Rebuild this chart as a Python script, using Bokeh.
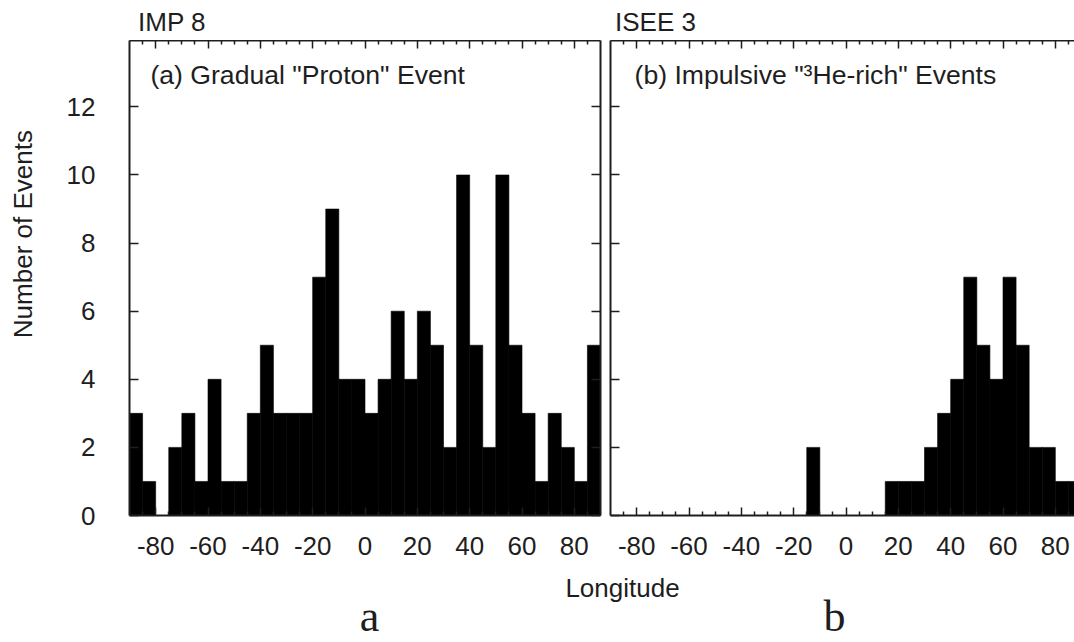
import math
from bokeh.plotting import figure
from bokeh.layouts import column, row
from bokeh.models import Range1d, LinearAxis, FixedTicker, Label, ColumnDataSource
from bokeh.embed import file_html
from bokeh.resources import INLINE

# ---------------- data ----------------
bin_left = [-90, -85, -80, -75, -70, -65, -60, -55, -50, -45, -40, -35,
            -30, -25, -20, -15, -10, -5, 0, 5, 10, 15, 20, 25,
            30, 35, 40, 45, 50, 55, 60, 65, 70, 75, 80, 85]
bin_width = 5
imp8_counts = [3, 1, 0, 2, 3, 1, 4, 1, 1, 3, 5, 3,
               3, 3, 7, 9, 4, 4, 3, 4, 6, 4, 6, 5,
               2, 10, 5, 2, 10, 5, 3, 1, 3, 2, 1, 5]
isee3_counts = [0, 0, 0, 0, 0, 0, 0, 0, 0, 0, 0, 0,
                0, 0, 0, 2, 0, 0, 0, 0, 0, 1, 1, 1,
                2, 3, 4, 7, 5, 4, 7, 5, 2, 2, 1, 1]
x_ticks = [-80, -60, -40, -20, 0, 20, 40, 60, 80]
x_tick_labels = ["-80", "-60", "-40", "-20", "0", "20", "40", "60", "80"]
x_minor = [-85, -75, -70, -65, -55, -50, -45, -35, -30, -25, -15, -10, -5,
           5, 10, 15, 25, 30, 35, 45, 50, 55, 65, 70, 75, 85]
y_ticks = [0, 2, 4, 6, 8, 10, 12]
y_tick_labels = ["0", "2", "4", "6", "8", "10", "12"]

FONT = "Liberation Sans"
INK = "#1e1e1e"
FS = "26px"


def hide_labels(ax):
    ax.major_label_text_font_size = "1px"
    ax.major_label_text_color = None
    ax.major_label_standoff = 0


def style_x(ax, labels):
    ax.ticker = FixedTicker(ticks=x_ticks, minor_ticks=x_minor)
    ax.major_tick_in = 8
    ax.major_tick_out = 0
    ax.minor_tick_in = 4
    ax.minor_tick_out = 0
    ax.axis_line_color = INK
    ax.axis_line_width = 2
    ax.major_tick_line_color = INK
    ax.major_tick_line_width = 1.5
    ax.minor_tick_line_color = INK
    ax.minor_tick_line_width = 1.5
    if labels:
        ax.major_label_overrides = dict(zip(x_ticks, x_tick_labels))
        ax.major_label_text_font = FONT
        ax.major_label_text_font_size = FS
        ax.major_label_text_color = INK
        ax.major_label_standoff = 21
    else:
        hide_labels(ax)


def style_y(ax, labels):
    ax.ticker = FixedTicker(ticks=y_ticks, minor_ticks=[])
    ax.major_tick_in = 9
    ax.major_tick_out = 0
    ax.minor_tick_in = 0
    ax.minor_tick_out = 0
    ax.axis_line_color = INK
    ax.axis_line_width = 2
    ax.major_tick_line_color = INK
    ax.major_tick_line_width = 1.5
    if labels:
        ax.major_label_overrides = dict(zip(y_ticks, y_tick_labels))
        ax.major_label_text_font = FONT
        ax.major_label_text_font_size = FS
        ax.major_label_text_color = INK
        ax.major_label_standoff = 34
    else:
        hide_labels(ax)


def make_panel(counts, width, x_end, bl, br, left_labels):
    p = figure(width=width, height=525, x_range=Range1d(-90, x_end),
               y_range=Range1d(0, 13.95), output_backend="svg",
               toolbar_location=None, min_border_left=bl, min_border_right=br,
               min_border_top=0, min_border_bottom=50)
    p.outline_line_color = None
    p.xgrid.visible = False
    p.ygrid.visible = False
    p.background_fill_color = "white"
    p.border_fill_color = "white"
    src = ColumnDataSource(dict(left=bin_left,
                                right=[b + bin_width for b in bin_left],
                                top=counts))
    p.quad(left="left", right="right", bottom=0, top="top", source=src,
           fill_color="black", line_color="black", line_width=0.6)
    style_x(p.xaxis[0], True)
    style_y(p.yaxis[0], left_labels)
    top = LinearAxis()
    style_x(top, False)
    p.add_layout(top, "above")
    return p


def text_strip(width, height):
    s = figure(width=width, height=height, x_range=Range1d(0, width),
               y_range=Range1d(height, 0), output_backend="svg",
               toolbar_location=None, x_axis_type=None, y_axis_type=None,
               min_border=0)
    s.outline_line_color = None
    s.xgrid.visible = False
    s.ygrid.visible = False
    return s


def lab(p, text, x, y, size=FS, font=FONT, align="left", **kw):
    p.add_layout(Label(x=x, y=y, text=text, text_font=font, text_font_size=size,
                       text_color=INK, text_align=align, text_baseline="middle", **kw))


pa = make_panel(imp8_counts, 565, 90, 89, 5, True)
right = LinearAxis()
style_y(right, False)
pa.add_layout(right, "right")
pb = make_panel(isee3_counts, 469, -90 + 464 * 180 / 471, 5, 0, False)

# in-panel captions (data coordinates, inside the frames)
lab(pa, '(a) Gradual "Proton" Event', -82.0, 12.95, size="26.6px")
lab(pb, '(b) Impulsive "\u00b3He-rich" Events', -80.8, 12.95, size="26.6px")

# top strip: instrument names
top_strip = text_strip(1074, 40)
lab(top_strip, "IMP 8", 137.5, 21)
lab(top_strip, "ISEE 3", 614.5, 21)

# left strip: y axis title
left_strip = text_strip(40, 525)
lab(left_strip, "Number of Events", 22, 214, align="center", angle=math.pi / 2)

# bottom strip: common x label and panel letters
bottom_strip = text_strip(1074, 77)
lab(bottom_strip, "Longitude", 622, 22.5, align="center")
lab(bottom_strip, "a", 369, 50.5, size="44px", font="Liberation Serif", align="center")
lab(bottom_strip, "b", 834, 50.5, size="44px", font="Liberation Serif", align="center")

layout = column(top_strip, row(left_strip, pa, pb, spacing=0), bottom_strip, spacing=0)
open("out.html", "w").write(file_html(layout, INLINE))
